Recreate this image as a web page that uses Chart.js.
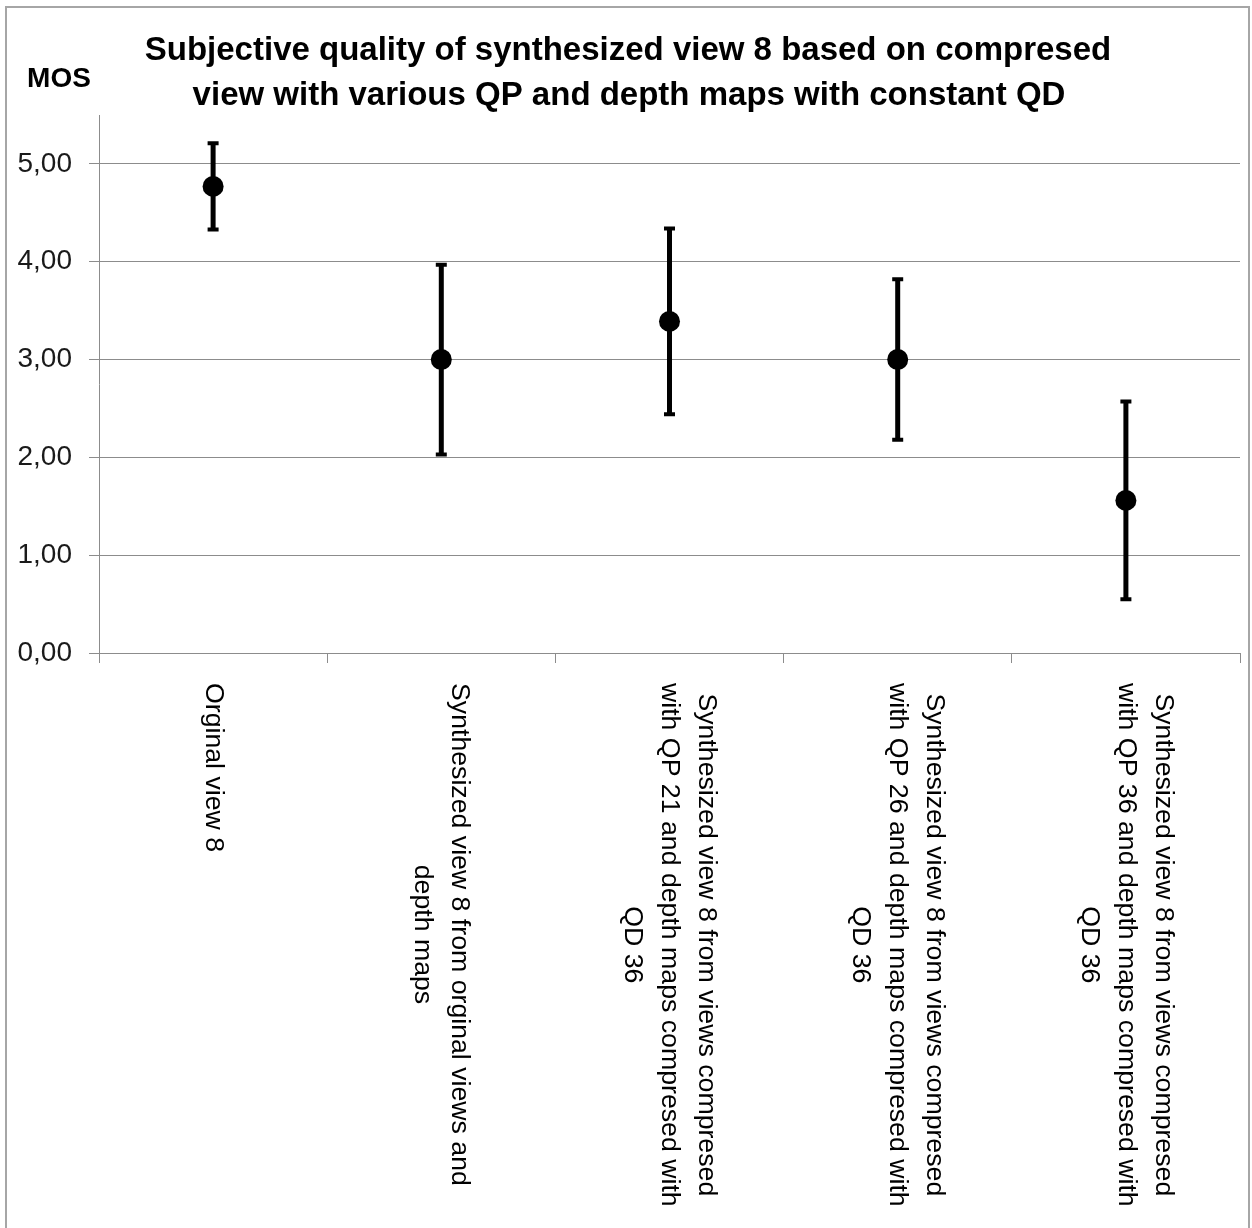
<!DOCTYPE html>
<html>
<head>
<meta charset="utf-8">
<script src="https://cdn.jsdelivr.net/npm/chart.js@4.4.0/dist/chart.umd.min.js"></script>
<style>
  body { margin: 0; background: #fff; }
  #wrap { position: relative; width: 1252px; height: 1228px; overflow: hidden; }
  #frame { position: absolute; left: 5px; top: 6px; width: 1245px; height: 1260px; border: 2px solid #a6a6a6; box-sizing: border-box; pointer-events: none; }
</style>
</head>
<body>
<div id="wrap">
  <canvas id="mosChart"></canvas>
  <div id="frame"></div>
</div>
<script>
// categories (each one is a list of label lines)
const categories = [
  ['Orginal view 8'],
  ['Synthesized view 8 from orginal views and', 'depth maps'],
  ['Synthesized view 8 from views compresed', 'with QP 21 and depth maps compresed with', 'QD 36'],
  ['Synthesized view 8 from views compresed', 'with QP 26 and depth maps compresed with', 'QD 36'],
  ['Synthesized view 8 from views compresed', 'with QP 36 and depth maps compresed with', 'QD 36']
];
const mosValues = [4.77, 3.00, 3.39, 3.00, 1.56];   // mean opinion score
const errValues = [0.44, 0.97, 0.95, 0.82, 1.01];   // half length of the error bar
const yTicks = [0, 1, 2, 3, 4, 5];
const titleLines = ['Subjective quality of synthesized view 8 based on compresed',
                    'view with various QP and depth maps with constant QD'];
const yLabel = 'MOS';

const FONT = "'Liberation Sans', Arial, sans-serif";

// error bars drawn under the points
const errorBars = {
  id: 'errorBars',
  beforeDatasetsDraw: (chart) => {
    const ctx = chart.ctx;
    const x = chart.scales.x;
    const y = chart.scales.y;
    ctx.save();
    ctx.strokeStyle = '#000';
    mosValues.forEach((v, i) => {
      const px = x.getPixelForValue(i);
      const top = y.getPixelForValue(v + errValues[i]);
      const bot = y.getPixelForValue(v - errValues[i]);
      ctx.lineWidth = 5;
      ctx.beginPath();
      ctx.moveTo(px, top);
      ctx.lineTo(px, bot);
      ctx.stroke();
      // caps
      ctx.lineWidth = 4;
      ctx.beginPath();
      ctx.moveTo(px - 5.5, top);
      ctx.lineTo(px + 5.5, top);
      ctx.moveTo(px - 5.5, bot);
      ctx.lineTo(px + 5.5, bot);
      ctx.stroke();
    });
    ctx.restore();
  }
};

// title, axis name and the rotated category labels
const chartText = {
  id: 'chartText',
  afterDraw: (chart) => {
    const ctx = chart.ctx;
    ctx.save();
    ctx.fillStyle = '#000';
    ctx.textAlign = 'center';
    ctx.textBaseline = 'alphabetic';
    ctx.font = 'bold 33px ' + FONT;
    ctx.fillText(titleLines[0], 628, 60);
    ctx.fillText(titleLines[1], 629, 105);

    ctx.font = 'bold 28px ' + FONT;
    ctx.fillText(yLabel, 59, 87);

    // labels read top to bottom, first line on the right
    ctx.font = '26.7px ' + FONT;
    ctx.textBaseline = 'middle';
    const lh = 37;
    const xs = chart.scales.x;
    const top = chart.chartArea.bottom + 30;
    categories.forEach((lines, i) => {
      const cx = xs.getPixelForValue(i);
      const block = Math.max(...lines.map(l => ctx.measureText(l).width));
      ctx.save();
      ctx.translate(cx, top);
      ctx.rotate(Math.PI / 2);
      lines.forEach((l, j) => {
        ctx.fillText(l, block / 2, (j - (lines.length - 1) / 2) * lh);
      });
      ctx.restore();
    });
    ctx.restore();
  }
};

const ctx = document.getElementById('mosChart').getContext('2d');
new Chart(ctx, {
  type: 'line',
  data: {
    labels: categories,
    datasets: [{
      label: 'MOS',
      data: mosValues,
      showLine: false,
      pointRadius: 10.5,
      pointBackgroundColor: '#000',
      pointBorderColor: '#000',
      pointBorderWidth: 0
    }]
  },
  options: {
    responsive: true,
    maintainAspectRatio: false,
    animation: false,
    layout: { padding: { top: 115, right: 12, bottom: 565, left: 0 } },
    plugins: {
      legend: { display: false },
      tooltip: { enabled: false },
      title: { display: false }
    },
    scales: {
      x: {
        offset: true,
        grid: { offset: true, drawOnChartArea: false, drawTicks: true, tickLength: 10, color: '#8c8c8c', lineWidth: 1 },
        border: { color: '#8c8c8c', width: 1 },
        ticks: { display: false }
      },
      y: {
        min: 0,
        max: 5.5,
        afterBuildTicks: (s) => { s.ticks = yTicks.map(v => ({ value: v })); },
        afterFit: (s) => { s.width = 99; },
        ticks: {
          padding: 17,
          color: '#1a1a1a',
          font: { family: FONT, size: 28 },
          callback: (v) => Number(v).toFixed(2).replace('.', ',')
        },
        grid: { color: '#8c8c8c', lineWidth: 1, tickLength: 10 },
        border: { color: '#8c8c8c', width: 1 }
      }
    }
  },
  plugins: [errorBars, chartText]
});
</script>
</body>
</html>
